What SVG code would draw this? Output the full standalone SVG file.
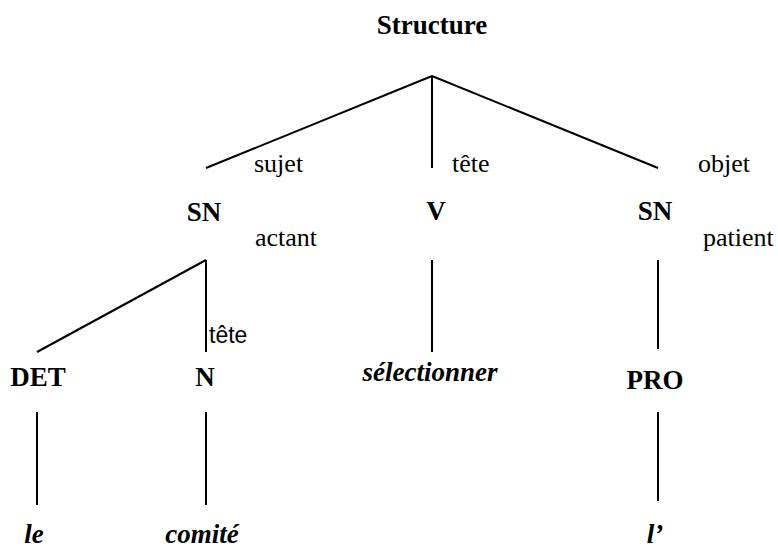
<svg xmlns="http://www.w3.org/2000/svg" width="778" height="549" viewBox="0 0 778 549">
<style>
.t{font-family:"Liberation Serif","Times New Roman",serif;fill:#000}
.b{font-weight:bold;font-size:27px;text-anchor:middle}
.i{font-weight:bold;font-style:italic;font-size:27px;text-anchor:middle}
.l{font-size:26px}
.s{font-family:"Liberation Sans",Arial,sans-serif;font-size:23px;fill:#000}
.e{stroke:#000;stroke-width:2;fill:none}
</style>
<rect width="778" height="549" fill="#fff"/>
<g id="connectors">
<line class="e" x1="432" y1="76" x2="206" y2="168"/>
<line class="e" x1="432" y1="76" x2="432" y2="168"/>
<line class="e" x1="432" y1="76" x2="658" y2="168"/>
<line class="e" x1="206" y1="260" x2="37" y2="352"/>
<line class="e" x1="206" y1="260" x2="206" y2="352"/>
<line class="e" x1="432" y1="260" x2="432" y2="352"/>
<line class="e" x1="658" y1="260" x2="658" y2="349"/>
<line class="e" x1="37" y1="412" x2="37" y2="505"/>
<line class="e" x1="206" y1="412" x2="206" y2="505"/>
<line class="e" x1="658" y1="412" x2="658" y2="501"/>
</g>
<g id="labels">
<text class="t l" x="254" y="172">sujet</text>
<text class="t l" x="452" y="172">tête</text>
<text class="t l" x="698" y="172">objet</text>
<text class="t l" x="255" y="246">actant</text>
<text class="t l" x="703" y="246">patient</text>
<text class="s" x="209" y="343">tête</text>
</g>
<g id="n-structure"><text class="t b" x="432" y="34">Structure</text></g>
<g id="n-sn1"><text class="t b" x="204" y="221">SN</text></g>
<g id="n-v"><text class="t b" x="436" y="220">V</text></g>
<g id="n-sn2"><text class="t b" x="655" y="220">SN</text></g>
<g id="n-det"><text class="t b" x="38" y="386">DET</text></g>
<g id="n-n"><text class="t b" x="205" y="386">N</text></g>
<g id="n-selectionner"><text class="t i" x="430" y="381">sélectionner</text></g>
<g id="n-pro"><text class="t b" x="655" y="389">PRO</text></g>
<g id="n-le"><text class="t i" x="34" y="543">le</text></g>
<g id="n-comite"><text class="t i" x="202" y="543">comité</text></g>
<g id="n-l"><text class="t i" x="655" y="543">l’</text></g>
</svg>
